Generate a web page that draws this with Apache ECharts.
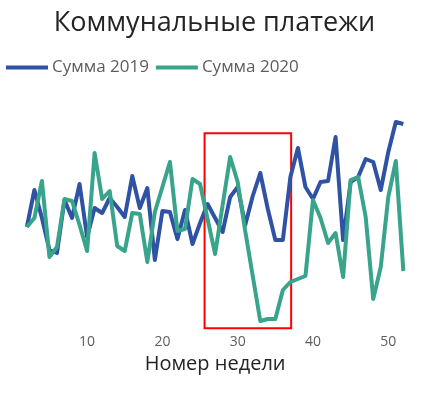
<!DOCTYPE html>
<html>
<head>
<meta charset="utf-8">
<script src="https://cdn.jsdelivr.net/npm/echarts@6/dist/echarts.min.js"></script>
<style>
html,body{margin:0;padding:0;background:#fff;}
#chart{width:429px;height:396px;}
</style>
</head>
<body>
<div id="chart"></div>
<script>
// Weeks (x values)
const weeks = [2,3,4,5,6,7,8,9,10,11,12,13,14,15,16,17,18,19,20,21,22,23,24,25,26,27,28,29,30,31,32,33,34,35,36,37,38,39,40,41,42,43,44,45,46,47,48,49,50,51,52];
// Values (arbitrary units, hidden value axis)
const sum2019 = [103,140,112,80,77,130,112,146,93,122,117,132,123,113,154,122,142,70,119,118,91,120,86,107,126,112,98,133,143,105,134,157,121,90,90,153,182,143,131,148,149,193,90,148,153,171,168,140,178,208,206];
const sum2020 = [103,112,149,73,83,131,129,105,79,177,131,139,84,79,117,116,68,118,143,168,99,101,151,146,111,76,125,173,148,99,54,9,11,11,40,48,51,54,130,112,87,97,53,150,153,113,31,63,133,169,59];
const seriesNames = ['Сумма 2019','Сумма 2020'];
const xTickLabels = [10,20,30,40,50];
// Highlighted range (weeks, values)
const highlightWeeks = [25.6, 37.1];
const highlightValues = [1.7, 196.7];

const pair = (vals) => weeks.map((w,i)=>[w, vals[i]]);
const font = "'Open Sans', 'Noto Sans', sans-serif";

const chart = echarts.init(document.getElementById('chart'), null, {renderer:'canvas'});
chart.setOption({
  animation:false,
  backgroundColor:'#ffffff',
  title:{
    text:'Коммунальные платежи',
    left:'center', top:10, padding:0,
    textStyle:{fontFamily:font, fontSize:27, fontWeight:'normal', color:'#252423'}
  },
  legend:{
    data:seriesNames,
    left:6, top:59, padding:0,
    icon:'rect', itemWidth:42, itemHeight:4, itemGap:7,
    textStyle:{fontFamily:font, fontSize:17, color:'#605E5C', padding:[0,0,0,-1]}
  },
  grid:{left:11.8, right:10.6, top:110, bottom:66, containLabel:false},
  xAxis:{
    type:'value', min:0, max:54, interval:10,
    axisLine:{show:false}, axisTick:{show:false}, splitLine:{show:false},
    axisLabel:{
      customValues:xTickLabels,
      formatter:(v)=> (v>0 && v%10===0) ? String(v) : '',
      fontFamily:font, fontSize:14, color:'#605E5C', margin:5
    },
    name:'Номер недели', nameLocation:'middle', nameGap:23,
    nameTextStyle:{fontFamily:font, fontSize:20, color:'#252423'}
  },
  yAxis:{
    type:'value', min:0, max:220, show:false, splitLine:{show:false}
  },
  series:[
    {
      name:seriesNames[0], type:'line', data:pair(sum2019),
      showSymbol:false, symbol:'none',
      lineStyle:{width:4, color:'#2F52A4', join:'round'},
      itemStyle:{color:'#2F52A4'}
    },
    {
      name:seriesNames[1], type:'line', data:pair(sum2020),
      showSymbol:false, symbol:'none',
      lineStyle:{width:4, color:'#38A48C', join:'round'},
      itemStyle:{color:'#38A48C'},
      markArea:{
        silent:true,
        itemStyle:{color:'rgba(0,0,0,0)', borderColor:'#FF0000', borderWidth:2},
        data:[[{xAxis:highlightWeeks[0], yAxis:highlightValues[1]},{xAxis:highlightWeeks[1], yAxis:highlightValues[0]}]]
      }
    }
  ]
});
</script>
</body>
</html>
